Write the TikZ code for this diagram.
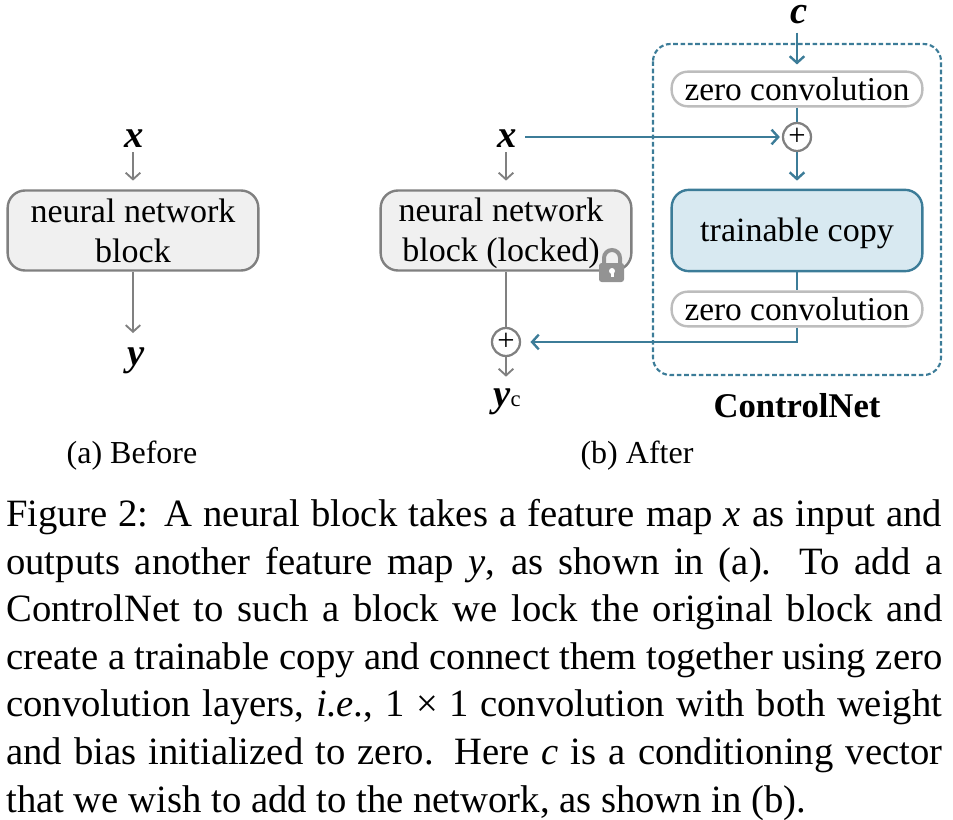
\documentclass[tikz,border=0pt]{standalone}
\usepackage{fontspec}
\setmainfont{Liberation Serif}
\usetikzlibrary{arrows.meta}
\definecolor{netblue}{HTML}{3C7C98}
\definecolor{netgray}{HTML}{808080}
\definecolor{zerogray}{HTML}{BDBDBD}
\definecolor{lockfill}{HTML}{F0F0F0}
\definecolor{copyfill}{HTML}{D8E9F1}
\tikzset{
  txt/.style={font=\fontsize{25.5}{30}\selectfont,align=center,inner sep=0pt},
  var/.style={font=\fontsize{29}{30}\selectfont\bfseries\itshape,inner sep=0pt},
  nnblock/.style={txt,draw=netgray,fill=lockfill,line width=1.8pt,rounded corners=13pt,minimum width=188pt,minimum height=60pt},
  copyblock/.style={txt,draw=netblue,fill=copyfill,line width=1.8pt,rounded corners=13pt,minimum width=188pt,minimum height=61pt},
  zeroblock/.style={txt,font=\fontsize{25}{30}\selectfont,draw=zerogray,fill=white,line width=1.8pt,rounded corners=12pt,minimum width=188pt,minimum height=26pt},
  plusnode/.style={circle,draw=netgray,fill=white,line width=1.7pt,minimum size=21pt,inner sep=0pt,font=\fontsize{23}{23}\selectfont},
  grayarrow/.style={draw=netgray,line width=1.4pt,-{Straight Barb[length=5pt,width=11pt]}},
  grayline/.style={draw=netgray,line width=1.7pt},
  bluearrow/.style={draw=netblue,line width=1.8pt,-{Straight Barb[length=5pt,width=11pt]}},
  blueline/.style={draw=netblue,line width=1.8pt},
}
\begin{document}
\begin{tikzpicture}[x=0.75pt,y=-0.75pt]
\useasboundingbox (0,0) rectangle (953,820);
% ControlNet frame
\draw[netblue,line width=1.6pt,dash pattern=on 3.5pt off 2pt,rounded corners=13pt] (653,44) rectangle (941,375);
% before
\node[var] (xa) at (133,139) {\kern2pt x};
\node[nnblock] (blocka) at (133,230.5) {\rule{0pt}{18.5pt}neural network\\block};
\node[var] (ya) at (133,361) {\kern4.5pt y};
\node[txt,font=\fontsize{24}{30}\selectfont] (capa) at (132,456) {(a) Before};
\draw[grayarrow,shorten <=3pt,shorten >=6.5pt] (xa) -- (blocka);
\draw[grayarrow,shorten >=11pt] (blocka) -- (ya);
% after
\node[var] (xb) at (506,139) {\kern2pt x};
\node[nnblock] (blockb) at (506,230.5) {\rule{0pt}{21.5pt}neural network\kern7.5pt\\block (locked)\kern7.5pt};
\node[plusnode] (plusa) at (506,342) {+};
\node[var] (yb) at (506,402) {\kern1.5pt y\textnormal{\fontsize{17}{20}\selectfont c}};
\node[txt,font=\fontsize{24}{30}\selectfont] (capb) at (637,456) {(b) After};
% controlnet side
\node[var] (cc) at (797,15) {\kern3pt c};
\node[zeroblock] (zeroa) at (797,89) {zero convolution};
\node[plusnode] (plusb) at (797,137) {+};
\node[copyblock] (copy) at (797,230.5) {\rule{0pt}{22pt}trainable copy};
\node[zeroblock] (zerob) at (797,309) {zero convolution};
\node[txt,font=\fontsize{26}{30}\selectfont\bfseries] (cnet) at (797,406) {ControlNet};
% arrows
\draw[grayarrow,shorten <=3pt,shorten >=6.5pt] (xb) -- (blockb);
\draw[grayline] (blockb) -- (plusa);
\draw[grayarrow,shorten >=9pt] (plusa) -- (yb);
\draw[bluearrow,shorten <=6pt,shorten >=4.5pt] (cc) -- (zeroa);
\draw[blueline] (zeroa) -- (plusb);
\draw[bluearrow,shorten >=6pt] (plusb) -- (copy);
\draw[blueline] (copy) -- (zerob);
\draw[bluearrow,shorten <=6pt,shorten >=1.5pt] (xb.east |- plusb) -- (plusb);
\draw[bluearrow,shorten >=7pt] (zerob) |- (plusa);
% lock
\fill[netgray!85] (599,263) [rounded corners=2pt] rectangle (624,282);
\draw[netgray!85,line width=3pt] (604,265) -- (604,258) arc (180:360:8) -- (620,265);
\fill[white] (612,271) circle (3);
\fill[white] (610.5,271) rectangle (613.5,277);
% caption
\node[anchor=north west,inner sep=0pt,text width=702pt,align=justify,font=\fontsize{29}{35.7}\selectfont] (caption) at (6,499) {%
Figure 2: A neural block takes a feature map \textit{x} as input and\linebreak
outputs another feature map \textit{y}, as shown in (a). To add a\linebreak
ControlNet to such a block we lock the original block and\linebreak
create a trainable copy and connect them together using zero\linebreak
convolution layers, \textit{i.e.}, 1 × 1 convolution with both weight\linebreak
and bias initialized to zero. Here \textit{c} is a conditioning vector\linebreak
that we wish to add to the network, as shown in (b).};
\end{tikzpicture}
\end{document}
